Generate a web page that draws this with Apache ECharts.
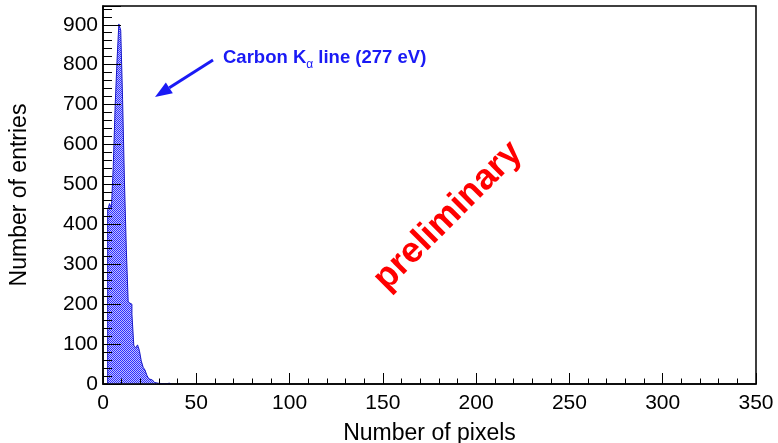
<!DOCTYPE html>
<html>
<head>
<meta charset="utf-8">
<script src="https://cdn.jsdelivr.net/npm/echarts@6/dist/echarts.min.js"></script>
<style>
  html, body { margin: 0; padding: 0; background: #fff; }
  #chart { width: 778px; height: 443px; }
</style>
</head>
<body>
<div id="chart"></div>
<script>
// Cluster size histogram: bin centres (number of pixels) and entries per bin
const pixelBins = [3, 4, 5, 6, 7, 8, 9, 10, 11, 12, 13, 14, 15, 16, 17, 18, 19, 20,
                   21, 22, 23, 24, 25, 26, 27, 28, 29, 30, 31, 32, 33, 34, 35, 36];
const entries   = [436, 452, 440, 545, 695, 808, 902, 886, 713, 506, 338, 205, 200, 175, 97, 90, 98, 84,
                   58, 42, 35, 22, 13, 10, 6, 4, 2, 3, 1, 0, 0, 0, 2, 0];
const xTicks = [0, 50, 100, 150, 200, 250, 300, 350];
const yTicks = [0, 100, 200, 300, 400, 500, 600, 700, 800, 900];

const FONT = '"Liberation Sans", Arial, Helvetica, sans-serif';
const BLUE = '#1a1af5';

// Histogram outline: each bin spans centre +/- 0.5, drawn as flat tops joined by vertical edges
const outline = [[pixelBins[0] - 0.5, 0]];
pixelBins.forEach((c, i) => {
  outline.push([c - 0.5, entries[i]]);
  outline.push([c + 0.5, entries[i]]);
});
outline.push([pixelBins[pixelBins.length - 1] + 0.5, 0]);

// Fine checker fill pattern
const pat = document.createElement('canvas');
pat.width = 2; pat.height = 2;
const pc = pat.getContext('2d');
pc.fillStyle = '#c0c0ff'; pc.fillRect(0, 0, 2, 2);
pc.fillStyle = '#3030ff'; pc.fillRect(0, 0, 1, 1); pc.fillRect(1, 1, 1, 1);

// Annotation text pieces, laid out by measured widths
const mc = document.createElement('canvas').getContext('2d');
const annFont = 'bold 18.5px ' + FONT;
mc.font = annFont;
const part1 = 'Carbon K', part3 = ' line (277 eV)';
const w1 = mc.measureText(part1).width;
mc.font = '12px ' + FONT;
const wa = mc.measureText('α').width;
const annX = 223, annY = 58;

// Arrow from the label towards the peak
const tail = [213, 60], tip = [155, 97];
const dx = tip[0] - tail[0], dy = tip[1] - tail[1];
const len = Math.hypot(dx, dy);
const ux = dx / len, uy = dy / len;
const headL = 17, headW = 6.5;
const bx = tip[0] - ux * headL, by = tip[1] - uy * headL;
const head = [tip, [bx - uy * headW, by + ux * headW], [bx + uy * headW, by - ux * headW]];

const chart = echarts.init(document.getElementById('chart'));
chart.setOption({
  animation: false,
  backgroundColor: '#fff',
  grid: { left: 103, right: 22, top: 6, bottom: 59, outerBoundsMode: 'none', containLabel: false,
          show: true, borderColor: '#000', borderWidth: 1.5 },
  xAxis: {
    type: 'value', min: xTicks[0], max: xTicks[xTicks.length - 1], interval: 50, z: 5,
    name: 'Number of pixels', nameLocation: 'middle', nameGap: 38,
    nameTextStyle: { fontFamily: FONT, fontSize: 23, color: '#000' },
    axisLine: { lineStyle: { color: '#000', width: 1.5 } },
    axisTick: { inside: true, length: 11, lineStyle: { color: '#000' } },
    minorTick: { show: true, splitNumber: 5, length: 5.5, lineStyle: { color: '#000' } },
    splitLine: { show: false },
    axisLabel: { fontFamily: FONT, fontSize: 21, color: '#000', margin: 9 }
  },
  yAxis: {
    type: 'value', min: yTicks[0], max: 947, interval: 100, z: 5,
    name: 'Number of entries', nameLocation: 'middle', nameGap: 72,
    nameTextStyle: { fontFamily: FONT, fontSize: 23, color: '#000' },
    axisLine: { lineStyle: { color: '#000', width: 1.5 } },
    axisTick: { inside: true, length: 18, lineStyle: { color: '#000' } },
    minorTick: { show: true, splitNumber: 5, length: 9, lineStyle: { color: '#000' } },
    splitLine: { show: false },
    axisLabel: { fontFamily: FONT, fontSize: 21, color: '#000', margin: 5, showMaxLabel: false,
                 formatter: v => (yTicks.includes(v) ? String(v) : '') }
  },
  series: [{
    type: 'line', data: outline, showSymbol: false, z: 2,
    lineStyle: { color: '#1818c8', width: 1 },
    areaStyle: { color: { image: pat, repeat: 'repeat' }, opacity: 1 }
  }],
  graphic: [
    { type: 'line', z: 10, shape: { x1: tail[0], y1: tail[1], x2: bx, y2: by },
      style: { stroke: BLUE, lineWidth: 3 } },
    { type: 'polygon', z: 10, shape: { points: head }, style: { fill: BLUE } },
    { type: 'text', z: 10, x: annX, y: annY,
      style: { text: part1, font: annFont, fill: BLUE, verticalAlign: 'middle' } },
    { type: 'text', z: 10, x: annX + w1, y: annY + 7,
      style: { text: 'α', font: '12px ' + FONT, fill: BLUE, verticalAlign: 'middle' } },
    { type: 'text', z: 10, x: annX + w1 + wa, y: annY,
      style: { text: part3, font: annFont, fill: BLUE, verticalAlign: 'middle' } },
    { type: 'text', z: 10, x: 448, y: 216, rotation: Math.PI / 4,
      style: { text: 'preliminary', font: 'bold 36px ' + FONT, fill: '#ff0000',
               align: 'center', verticalAlign: 'middle' } }
  ]
});
</script>
</body>
</html>
